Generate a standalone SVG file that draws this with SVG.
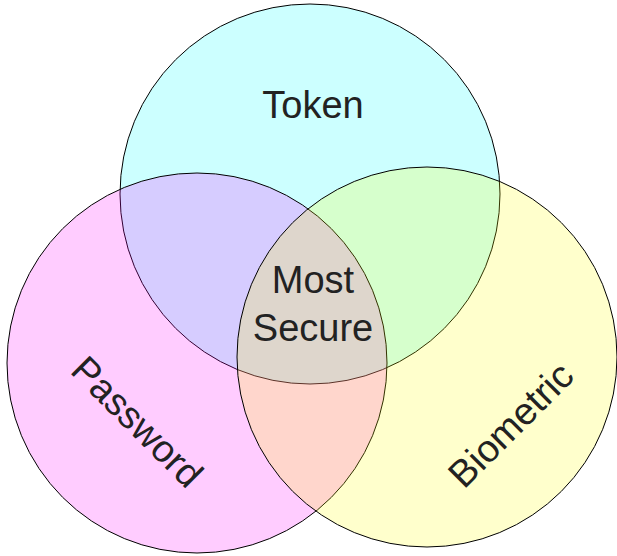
<svg xmlns="http://www.w3.org/2000/svg" width="617" height="556" viewBox="0 0 617 556">
<style>
.c{stroke:#000;stroke-width:1;fill-opacity:0.2}
.t{font-family:"Liberation Sans",Arial,sans-serif;font-size:38px;fill:#222;text-anchor:middle}
</style>
<rect width="617" height="556" fill="#fff"/>
<g id="token">
<circle class="c" cx="310" cy="194" r="190" fill="#00ffff"/>
</g>
<g id="password">
<circle class="c" cx="197" cy="363" r="190" fill="#ff00ff"/>
</g>
<g id="biometric">
<circle class="c" cx="427" cy="357" r="190" fill="#ffff00"/>
</g>
<g id="labels">
<text class="t" x="313" y="118">Token</text>
<text class="t" x="313" y="293">Most</text>
<text class="t" x="313" y="341">Secure</text>
<text class="t" transform="translate(128,431) rotate(45)">Password</text>
<text class="t" transform="translate(520,434) rotate(-45)">Biometric</text>
</g>
</svg>
